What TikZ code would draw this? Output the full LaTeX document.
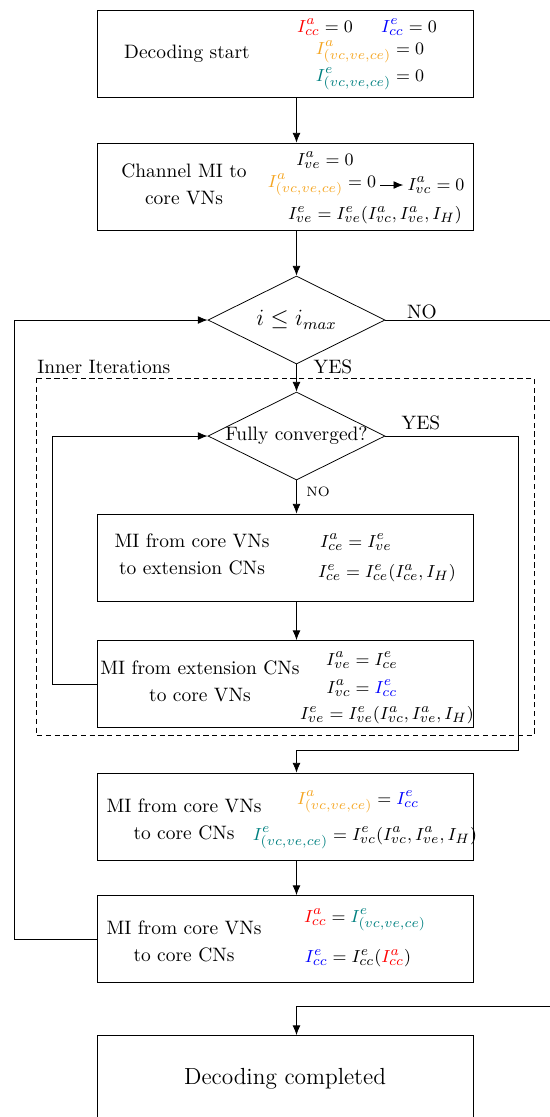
\documentclass[tikz,border=0pt]{standalone}
\usepackage{amsmath, amssymb}
\usetikzlibrary{shapes.geometric, arrows.meta}

\definecolor{iorange}{RGB}{245,166,35}
\definecolor{iteal}{RGB}{0,128,128}

\tikzset{
    block/.style={rectangle, draw, minimum width=193.6pt, minimum height=44.8pt},
    decision/.style={diamond, draw, inner sep=0pt, minimum width=91.2pt, minimum height=45.3pt},
    eq/.style={inner sep=1pt, font=\fontsize{9.5pt}{11pt}\selectfont},
    flow/.style={-{Latex[length=5pt,width=4pt]}},
}

\begin{document}
\begin{tikzpicture}[x=0.515pt, y=-0.515pt]
    \useasboundingbox (0,0) rectangle (550,1117);
    \clip (0,0) rectangle (550,1117);
    % Boxes
    \foreach \name/\y in {box1/53.5, box2/186.5, box3/557.5, box4/684, box5/816.5, box6/939} {
        \node[block] (\name) at (285,\y) {};
    }
    \node[block] (box7) at (285,1079) {\large Decoding completed};
    % Decisions
    \node[decision] (d1) at (296.5,320) {};
    \node (d1-text) at (d1) {\large $i \leq i_{max}$};
    \node[decision] (d2) at (296.5,436) {};
    \node (d2-text) at (d2) {Fully converged?};
    % Box texts
    \node (box1-text) at (187,54) {Decoding start};
    \node[align=center] (box2-text) at (184,184) {Channel MI to\\[2pt]core VNs};
    \node[align=center] (box3-text) at (192,554) {MI from core VNs\\[2pt]to extension CNs};
    \node[align=center] (box4-text) at (200,681) {MI from extension CNs\\[2pt]to core VNs};
    \node[align=center] (box5-text) at (184,819) {MI from core VNs\\[2pt]to core CNs};
    \node[align=center] (box6-text) at (184,941) {MI from core VNs\\[2pt]to core CNs};
    % Box 1 equations
    \node[eq] (box1-m1) at (325,27) {$\textcolor{red}{I^a_{cc}} = 0$};
    \node[eq] (box1-m2) at (409,27) {$\textcolor{blue}{I^e_{cc}} = 0$};
    \node[eq] (box1-m3) at (370,52) {$\textcolor{iorange}{I^a_{(vc,ve,ce)}} = 0$};
    \node[eq] (box1-m4) at (370,79) {$\textcolor{iteal}{I^e_{(vc,ve,ce)}} = 0$};
    % Box 2 equations
    \node[eq] (box2-m1) at (325,160) {$I^a_{ve} = 0$};
    \node[eq, inner sep=2pt] (box2-m2) at (322,185) {$\textcolor{iorange}{I^a_{(vc,ve,ce)}} = 0$};
    \node[eq, inner sep=2pt] (box2-m3) at (436,185) {$I^a_{vc} = 0$};
    \node[eq] (box2-m4) at (375,215) {$I^e_{ve} = I^e_{ve}(I^a_{vc}, I^a_{ve}, I_H)$};
    \draw[flow] (box2-m2) -- (box2-m3);
    % Box 3 equations
    \node[eq] (box3-m1) at (356,542) {$I^a_{ce} = I^e_{ve}$};
    \node[eq] (box3-m2) at (387,573) {$I^e_{ce} = I^e_{ce}(I^a_{ce}, I_H)$};
    % Box 4 equations
    \node[eq] (box4-m1) at (362,660) {$I^a_{ve} = I^e_{ce}$};
    \node[eq] (box4-m2) at (362,688) {$I^a_{vc} = \textcolor{blue}{I^e_{cc}}$};
    \node[eq] (box4-m3) at (387,715) {$I^e_{ve} = I^e_{ve}(I^a_{vc}, I^a_{ve}, I_H)$};
    % Box 5 equations
    \node[eq] (box5-m1) at (358,802) {$\textcolor{iorange}{I^a_{(vc,ve,ce)}} = \textcolor{blue}{I^e_{cc}}$};
    \node[eq] (box5-m2) at (365,838) {$\textcolor{iteal}{I^e_{(vc,ve,ce)}} = I^e_{vc}(I^a_{vc}, I^a_{ve}, I_H)$};
    % Box 6 equations
    \node[eq] (box6-m1) at (365,920) {$\textcolor{red}{I^a_{cc}} = \textcolor{iteal}{I^e_{(vc,ve,ce)}}$};
    \node[eq] (box6-m2) at (358,958) {$\textcolor{blue}{I^e_{cc}} = I^e_{cc}(\textcolor{red}{I^a_{cc}})$};
    % Inner iterations frame
    \draw[dash pattern=on 2.7pt off 1.8pt] (36,378) rectangle (534,735);
    \node[anchor=west, inner sep=0pt] (inner) at (37,367) {Inner Iterations};
    % Labels
    \node (no1) at (422,312) {NO};
    \node (yes1) at (333,367) {YES};
    \node (yes2) at (421,423) {YES};
    \node (no2) at (318,492) {\scriptsize NO};
    % Arrows
    \foreach \a/\b in {box1/box2, box3/box4, box5/box6} {
        \draw[flow] (\a.south -| d1) -- (\b.north -| d1);
    }
    \draw[flow] (box2.south -| d1) -- (d1.north);
    \draw[flow] (d1.south) -- (d2.north);
    \draw[flow] (d2.south) -- (box3.north -| d2);
    % Loops
    \draw[flow] (box6.west) -- ++(-82,0) |- (d1.west);
    \draw[flow] (box4.west) -- ++(-44,0) |- (d2.west);
    \coordinate (yesturn) at (518,750);
    \draw[flow] (d2.east) -| (yesturn) -| (box5.north -| d2);
    \coordinate (noturn) at (570,1006);
    \draw[flow] (d1.east) -| (noturn) -| (box7.north -| d1);
\end{tikzpicture}
\end{document}
